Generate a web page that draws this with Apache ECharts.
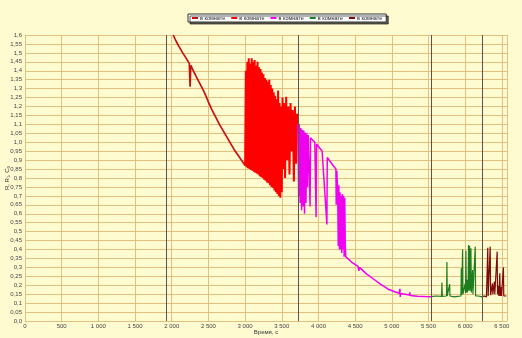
<!DOCTYPE html>
<html>
<head>
<meta charset="utf-8">
<script src="https://cdn.jsdelivr.net/npm/echarts@6/dist/echarts.min.js"></script>
<style>html,body{margin:0;padding:0;background:#FEFBD0;}#c{width:522px;height:338px;}</style>
</head>
<body>
<div id="c"></div>
<script>
// ---- data ----
var legendLabel = 'в комнате';
var xAxisName = 'Время, с';
var yAxisName = 'R, R₁, C₀';
var markerTimes = [1930, 3720, 5540, 6230];

var t1 = [2020,2060,2100,2150,2200,2240,2250,2260,2300,2350,2400,2450,2500,2550,2600,2650,2700,2750,2800,2850,2900,2950,3000];
var v1 = [1.60,1.565,1.535,1.50,1.468,1.44,1.31,1.43,1.395,1.355,1.315,1.275,1.225,1.18,1.14,1.10,1.065,1.03,0.995,0.96,0.93,0.90,0.87];

var t2 = [3000,3010,3020,3030,3040,3050,3060,3070,3080,3090,3100,3110,3120,3130,3140,3150,3160,3170,3180,3190,3200,3210,3220,3230,3240,3250,3260,3270,3280,3290,3300,3310,3320,3330,3340,3350,3360,3370,3380,3390,3400,3410,3420,3430,3440,3450,3460,3470,3480,3490,3500,3510,3520,3530,3545,3560,3575,3590,3605,3620,3635,3650,3665,3680,3695,3710,3720];
var v2 = [0.87,1.40,0.86,1.45,0.855,1.47,0.85,1.44,0.845,1.47,0.84,1.45,0.835,1.46,0.83,1.43,0.825,1.45,0.82,1.42,0.81,1.41,0.805,1.39,0.80,1.38,0.79,1.36,0.785,1.35,0.775,1.34,0.77,1.35,0.76,1.32,0.75,1.30,0.745,1.28,0.73,1.26,0.72,1.24,0.71,1.29,0.70,1.22,0.69,1.20,0.72,1.25,0.85,1.22,0.80,1.255,0.90,1.20,0.82,1.22,0.95,1.18,0.78,1.20,0.88,1.16,1.10];

var t3 = [3720,3730,3740,3750,3760,3770,3780,3790,3800,3810,3820,3830,3840,3850,3860,3880,3886,3892,3950,3968,3975,4050,4115,4120,4200,4238,4242,4250,4258,4262,4270,4278,4286,4294,4302,4310,4318,4326,4334,4342,4350,4358,4366,4372,4450,4540,4550,4560,4650,4750,4850,4950,5050,5100,5110,5115,5120,5200,5240,5245,5250,5350,5450,5540];
var v3 = [1.10,0.70,1.10,0.66,1.08,0.62,1.07,0.64,1.065,0.60,1.055,0.66,1.05,0.75,1.04,1.03,0.64,1.025,1.00,0.58,0.99,0.95,0.54,0.915,0.87,0.85,0.65,0.84,0.83,0.72,0.42,0.76,0.40,0.72,0.40,0.70,0.38,0.71,0.40,0.70,0.36,0.69,0.42,0.36,0.33,0.305,0.28,0.30,0.265,0.235,0.205,0.178,0.162,0.155,0.18,0.135,0.154,0.148,0.145,0.16,0.142,0.139,0.137,0.136];

var t4 = [5540,5600,5678,5683,5688,5746,5751,5756,5783,5788,5793,5850,5900,5942,5947,5952,5960,5965,5970,5990,6000,6005,6010,6015,6025,6030,6040,6046,6050,6055,6060,6065,6072,6078,6084,6090,6101,6106,6130,6137,6142,6180,6230];
var v4 = [0.136,0.14,0.138,0.215,0.138,0.14,0.33,0.14,0.138,0.207,0.14,0.135,0.138,0.14,0.295,0.145,0.15,0.40,0.15,0.16,0.21,0.155,0.393,0.16,0.23,0.16,0.20,0.425,0.17,0.22,0.42,0.17,0.23,0.407,0.16,0.20,0.285,0.15,0.145,0.416,0.14,0.14,0.135];

var t5 = [6230,6260,6290,6303,6308,6313,6336,6341,6346,6367,6372,6377,6394,6399,6404,6431,6436,6441,6449,6454,6459,6467,6472,6477,6485,6490,6495,6516,6521,6526,6560];
var v5 = [0.135,0.14,0.135,0.14,0.41,0.14,0.145,0.416,0.145,0.15,0.21,0.15,0.15,0.22,0.15,0.145,0.388,0.15,0.14,0.196,0.14,0.14,0.267,0.14,0.145,0.19,0.14,0.14,0.30,0.14,0.14];

var seriesColors = ['#C8100E', '#FF0000', '#F000F0', '#1E7D1E', '#7E0A0A'];
var seriesWidths = [1.7, 2, 1.5, 1.2, 1.2];
// ---------------------------------------

function zip(t, v) { return t.map(function (x, i) { return [x, v[i]]; }); }
var all = [[t1, v1], [t2, v2], [t3, v3], [t4, v4], [t5, v5]];

var series = all.map(function (p, i) {
  var s = {
    name: 's' + (i + 1),
    type: 'line',
    data: zip(p[0], p[1]),
    showSymbol: false,
    symbol: 'none',
    lineStyle: { width: seriesWidths[i], color: seriesColors[i] },
    itemStyle: { color: seriesColors[i] },
    silent: true,
    z: 3
  };
  if (i === 0) {
    s.markLine = {
      silent: true,
      symbol: ['none', 'none'],
      label: { show: false },
      lineStyle: { color: '#555555', width: 1, type: 'solid' },
      data: markerTimes.map(function (t) { return { xAxis: t }; })
    };
  }
  return s;
});

var gridColor = '#E4C07E';
var chart = echarts.init(document.getElementById('c'), null, { renderer: 'canvas' });
chart.setOption({
  backgroundColor: '#FEFBD0',
  animation: false,
  textStyle: { fontFamily: 'Liberation Sans, Arial, sans-serif' },
  legend: {
    data: series.map(function (s) { return s.name; }),
    formatter: function () { return legendLabel; },
    left: 188, top: 14,
    itemWidth: 6, itemHeight: 2, itemGap: 6,
    icon: 'rect',
    padding: [1, 4, 1, 4],
    backgroundColor: '#ffffff',
    borderColor: '#333333', borderWidth: 1,
    shadowColor: 'rgba(0,0,0,0.6)', shadowOffsetX: 2, shadowOffsetY: 2, shadowBlur: 0,
    textStyle: { fontSize: 5.5, color: '#222', padding: [0, 0, 0, -3] }
  },
  grid: { left: 25, right: 15, top: 35, bottom: 17, containLabel: false, outerBoundsMode: 'none' },
  xAxis: {
    type: 'value', min: 0, max: 6570, interval: 500,
    name: xAxisName, nameLocation: 'middle', nameGap: 8, nameMoveOverlap: false,
    nameTextStyle: { fontSize: 6, color: '#333', verticalAlign: 'top' },
    axisLine: { show: true, lineStyle: { color: gridColor } },
    axisTick: { show: false },
    axisLabel: {
      fontSize: 6, color: '#444', margin: 2, showMaxLabel: false,
      formatter: function (v) {
        if (v % 500 !== 0) return '';
        if (v >= 1000) { var r = String(v % 1000); while (r.length < 3) r = '0' + r; return Math.floor(v / 1000) + ' ' + r; }
        return String(v);
      }
    },
    splitLine: { show: true, lineStyle: { color: gridColor, width: 1 } }
  },
  yAxis: {
    type: 'value', min: 0, max: 1.6, interval: 0.05,
    name: yAxisName, nameLocation: 'middle', nameGap: 15, nameRotate: 90, nameMoveOverlap: false,
    nameTextStyle: { fontSize: 6, color: '#333' },
    axisLine: { show: true, lineStyle: { color: gridColor } },
    axisTick: { show: false },
    axisLabel: {
      fontSize: 6, color: '#444', margin: 3,
      formatter: function (v) {
        var s = (Math.round(v * 100) / 100).toFixed(2);
        if (s.charAt(s.length - 1) === '0') s = s.slice(0, -1);
        return s.replace('.', ',');
      }
    },
    splitLine: { show: true, lineStyle: { color: gridColor, width: 1 } }
  },
  series: series
});
</script>
</body>
</html>
